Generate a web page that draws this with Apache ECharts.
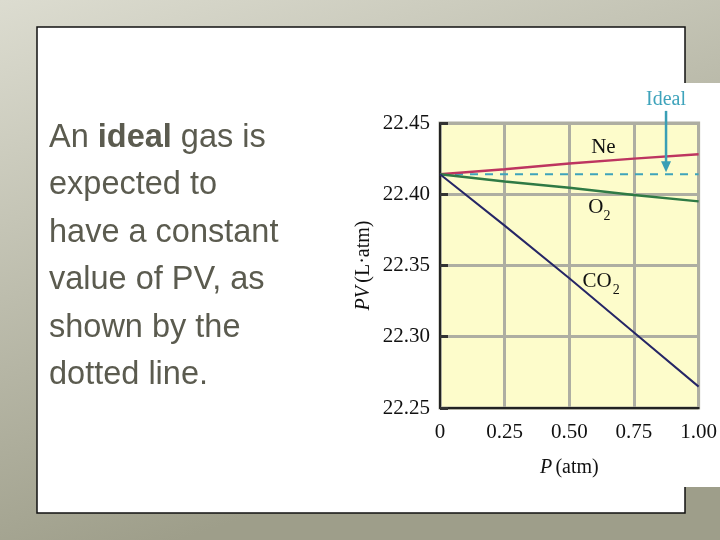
<!DOCTYPE html>
<html><head><meta charset="utf-8">
<script src="https://cdn.jsdelivr.net/npm/echarts@6/dist/echarts.min.js"></script>
<style>html,body{margin:0;padding:0;background:#fff;}#c{width:720px;height:540px;}</style>
</head><body><div id="c"></div>
<script>
// ---- data ----
const pressure = [0, 0.25, 0.5, 0.75, 1.0];
const neValues = [22.414, 22.4175, 22.4215, 22.425, 22.428];
const o2Values = [22.414, 22.409, 22.4045, 22.3995, 22.395];
const co2Values = [22.414, 22.378, 22.341, 22.303, 22.265];
const idealValues = [22.414, 22.414, 22.414, 22.414, 22.414];
const xTickLabels = ['0', '0.25', '0.50', '0.75', '1.00'];
const yTickLabels = ['22.25', '22.30', '22.35', '22.40', '22.45'];
const slideLines = [
  '{n|An }{b|ideal}{n| gas is}',
  '{n|expected to}',
  '{n|have a constant}',
  '{n|value of PV, as}',
  '{n|shown by the}',
  '{n|dotted line.}'
];

const serif = 'Liberation Serif';
const sans = 'Liberation Sans';
const pair = (xs, ys) => xs.map((x, i) => [x, ys[i]]);

const chart = echarts.init(document.getElementById('c'), null, {renderer: 'canvas'});

const option = {
  animation: false,
  backgroundColor: {
    type: 'linear', x: 0, y: 0, x2: 0.25, y2: 1,
    colorStops: [{offset: 0, color: '#dcdcd0'}, {offset: 0.5, color: '#bdbdad'}, {offset: 1, color: '#9e9e8a'}]
  },
  grid: {
    left: 440, right: 19, top: 123, bottom: 132,
    show: true, backgroundColor: '#fdfccb', borderColor: '#aeaea2', borderWidth: 3
  },
  xAxis: {
    type: 'value', min: 0, max: 1, interval: 0.25, z: 2,
    axisLine: {lineStyle: {color: '#222', width: 2}},
    axisTick: {show: false},
    splitLine: {lineStyle: {color: '#aeaea2', width: 3}},
    axisLabel: {
      margin: 14, color: '#111', fontFamily: serif, fontSize: 21,
      formatter: v => xTickLabels[Math.round(v / 0.25)]
    },
    name: '{i|P} {n|(atm)}', nameLocation: 'middle', nameGap: 50,
    nameTextStyle: {rich: {
      i: {fontFamily: serif, fontStyle: 'italic', fontSize: 20, color: '#111'},
      n: {fontFamily: serif, fontSize: 20, color: '#111'}
    }}
  },
  yAxis: {
    type: 'value', min: 22.25, max: 22.45, interval: 0.05, z: 2,
    axisLine: {show: true, lineStyle: {color: '#222', width: 2}},
    axisTick: {show: true, inside: true, length: 8, lineStyle: {color: '#333', width: 3}},
    splitLine: {lineStyle: {color: '#aeaea2', width: 3}},
    axisLabel: {
      margin: 10, color: '#111', fontFamily: serif, fontSize: 21,
      formatter: v => yTickLabels[Math.round((v - 22.25) / 0.05)]
    },
    name: '{i|PV} {n|(L·atm)}', nameLocation: 'middle', nameGap: 66, nameRotate: 90,
    nameTextStyle: {rich: {
      i: {fontFamily: serif, fontStyle: 'italic', fontSize: 20, color: '#111'},
      n: {fontFamily: serif, fontSize: 20, color: '#111'}
    }}
  },
  series: [
    {name: 'Ideal', type: 'line', data: pair(pressure, idealValues), symbol: 'none',
     lineStyle: {color: '#3ea3bb', width: 2, type: [8, 7]}, z: 3},
    {name: 'Ne', type: 'line', data: pair(pressure, neValues), symbol: 'none',
     lineStyle: {color: '#bd3560', width: 2.5}, z: 4},
    {name: 'O2', type: 'line', data: pair(pressure, o2Values), symbol: 'none',
     lineStyle: {color: '#2f7a45', width: 2.5}, z: 4},
    {name: 'CO2', type: 'line', data: pair(pressure, co2Values), symbol: 'none',
     lineStyle: {color: '#262666', width: 2}, z: 4}
  ]
};
chart.setOption(option);

const px = (x, y) => chart.convertToPixel({gridIndex: 0}, [x, y]);
const ne = px(0.632, 22.4325);
const o2 = px(0.632, 22.3905);
const co2 = px(0.625, 22.339);
const idealLbl = px(0.874, 22.466);
const arrTop = px(0.874, 22.4585);
const arrTip = px(0.874, 22.4155);
const lblStyle = (t, p, size, color, align) => ({
  type: 'text', x: p[0], y: p[1], z: 10,
  style: {text: t, fontFamily: serif, fontSize: size, fill: color || '#111',
          align: align || 'center', verticalAlign: 'middle'}
});

const textLines = slideLines.map((t, i) => ({
  type: 'text', x: 49, y: 149 + i * 47.4 - 11, z: 10,
  style: {
    text: t, verticalAlign: 'middle',
    rich: {
      n: {fontFamily: sans, fontSize: 32.5, fill: '#5b5b4f'},
      b: {fontFamily: sans, fontSize: 32.5, fontWeight: 'bold', fill: '#5b5b4f'}
    }
  }
}));

chart.setOption({
  graphic: [
    {type: 'rect', z: -3, shape: {x: 37, y: 27, width: 648, height: 486},
     style: {fill: '#ffffff', stroke: '#111', lineWidth: 1.5}},
    {type: 'rect', z: -2, shape: {x: 340, y: 83, width: 380, height: 404},
     style: {fill: '#ffffff'}},
    ...textLines,
    lblStyle('Ne', ne, 21),
    lblStyle('O', o2, 21, '#111', 'right'),
    {type: 'text', x: o2[0], y: o2[1] + 9, z: 10,
     style: {text: '2', fontFamily: serif, fontSize: 14, fill: '#111', align: 'left', verticalAlign: 'middle'}},
    lblStyle('CO', [co2[0] + 10, co2[1]], 21, '#111', 'right'),
    {type: 'text', x: co2[0] + 11, y: co2[1] + 9, z: 10,
     style: {text: '2', fontFamily: serif, fontSize: 14, fill: '#111', align: 'left', verticalAlign: 'middle'}},
    lblStyle('Ideal', idealLbl, 20, '#3ea3bb'),
    {type: 'line', z: 10, shape: {x1: arrTop[0], y1: arrTop[1], x2: arrTip[0], y2: arrTip[1] - 8},
     style: {stroke: '#3a9fb5', lineWidth: 2.5}},
    {type: 'polygon', z: 10,
     shape: {points: [[arrTip[0] - 5, arrTip[1] - 11], [arrTip[0] + 5, arrTip[1] - 11], [arrTip[0], arrTip[1]]]},
     style: {fill: '#3a9fb5'}}
  ]
});
</script>
</body></html>
